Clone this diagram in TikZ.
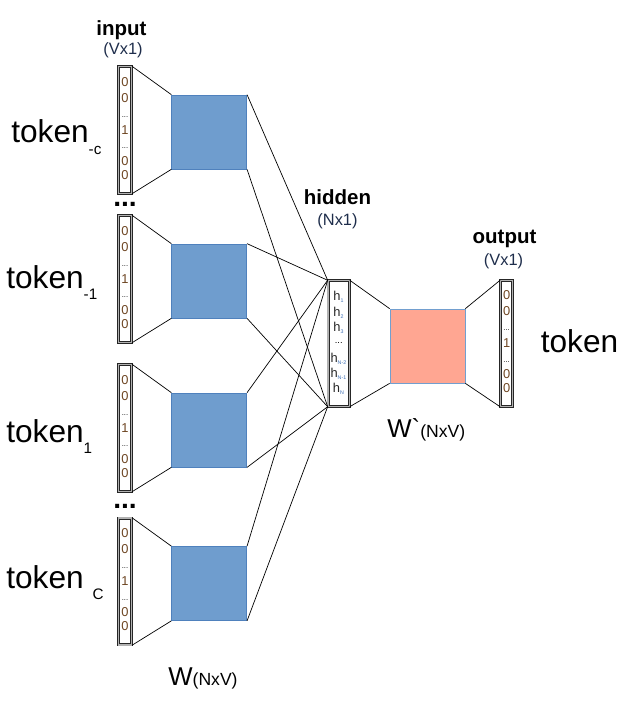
\documentclass[tikz,border=0pt]{standalone}
\usepackage{fontspec}
\setmainfont{Liberation Sans}
\usepackage{xcolor}
\usetikzlibrary{positioning}
\definecolor{wblue}{RGB}{111,157,206}
\definecolor{wblueline}{RGB}{79,129,189}
\definecolor{wpink}{RGB}{255,166,146}
\definecolor{wpinkline}{RGB}{114,159,207}
\definecolor{digitc}{RGB}{110,70,35}
\definecolor{hsubblue}{RGB}{60,110,180}
\definecolor{dimc}{RGB}{30,45,75}
\newcommand\hsub[1]{\textsubscript{\fontsize{4.5}{4.5}\selectfont\color{hsubblue}#1}}
\newcommand\tksub[1]{\raisebox{-9.5pt}{\fontsize{13}{13}\selectfont #1}}
\tikzset{
  vecbox/.style = {rectangle, draw=black!85, double=gray!60,
    double distance=1.2pt, line width=0.65pt, inner sep=0pt,
    minimum width=0.4cm, minimum height=3.8cm},% one-hot vector
  hidbox/.style = {vecbox, minimum width=0.64cm, minimum height=3.77cm},% hidden layer
  outbox/.style = {vecbox, minimum width=0.37cm, minimum height=3.77cm},
  wbox/.style = {rectangle, fill=wblue, draw=wblueline, inner sep=0pt,
    minimum width=2.25cm, minimum height=2.22cm},% W
  wpbox/.style = {wbox, fill=wpink, draw=wpinkline},% W`
  digit/.style = {inner sep=0pt, text=digitc, font=\fontsize{11}{11}\selectfont},
  vdots/.style = {inner sep=0pt, font=\fontsize{6.5}{6.5}\selectfont},
  hcell/.style = {inner sep=0pt, text=black!85, font=\fontsize{11}{11}\selectfont},
  head/.style = {inner sep=0pt, anchor=base, font=\fontsize{17.5}{18}\selectfont\bfseries},
  dim/.style = {inner sep=0pt, anchor=base, text=dimc, font=\fontsize{14}{15}\selectfont},
  token/.style = {inner sep=0pt, anchor=base west, font=\fontsize{27}{28}\selectfont},
  wlbl/.style = {inner sep=0pt, anchor=base west, font=\fontsize{22}{23}\selectfont},
  bigdots/.style = {inner sep=0pt, anchor=base, font=\fontsize{24}{24}\selectfont\bfseries}
}

\begin{document}
\begin{tikzpicture}[x=0.03cm,y=-0.03cm,line width=0.6pt]
\useasboundingbox (0,0) rectangle (640,708);

% input vectors and W
\foreach \i/\y in {1/130,2/279,3/428,4/581.5}{
  \node [vecbox] (in\i) at (125,\y) {};
  \node [wbox] (w\i) at (209.2,\y+2) {};
  \draw (in\i.north east) -- (w\i.north west);
  \draw (in\i.south east) -- (w\i.south west);
  \foreach \dy/\d in {1.44/0,0.96/0,0/1,-0.93/0,-1.35/0}
    \node [digit] at ([yshift=\dy cm]in\i) {\d};
  \foreach \dy in {0.4,-0.55}
    \node [vdots] at ([yshift=\dy cm]in\i) {...};
}
\node [bigdots] (gap1) at (125,206) {...};
\node [bigdots] (gap2) at (125,508) {...};

% hidden layer
\node [hidbox] (hid) at (338.7,343.5) {};
\foreach \i in {1,...,4}{
  \draw (w\i.north east) -- (hid.north west);
  \draw (w\i.south east) -- (hid.south west);
}
\foreach \dy/\s in {1.395/1,0.93/2,0.48/3,-0.465/N-2,-0.915/N-1,-1.365/N}
  \node [hcell] at ([yshift=\dy cm]hid) {h\hsub{\s}};
\node [vdots, font=\fontsize{8}{8}\selectfont] at ([yshift=0.02cm]hid) {...};

% W` and output
\node [wpbox] (wout) at (427.5,346) {};
\node [outbox] (out) at (506.6,343.5) {};
\draw (hid.north east) -- (wout.north west);
\draw (hid.south east) -- (wout.south west);
\draw (wout.north east) -- (out.north west);
\draw (wout.south east) -- (out.south west);
\foreach \dy/\d in {1.44/0,0.96/0,0/1,-0.93/0,-1.35/0}
  \node [digit] at ([yshift=\dy cm]out) {\d};
\foreach \dy in {0.4,-0.55}
  \node [vdots] at ([yshift=\dy cm]out) {...};

% labels
\node [head] (inhead) at (121.5,36) {input};
\node [dim] (indim) at (123,55) {(Vx1)};
\node [head] (hidhead) at (337.5,205) {hidden};
\node [dim] (hiddim) at (337.5,225) {(Nx1)};
\node [head] (outhead) at (504.5,243) {output};
\node [dim] (outdim) at (503.5,265) {(Vx1)};

\node [token] (tk1) at (11,143) {token\tksub{-c}};
\node [token] (tk2) at (6,288) {token\tksub{-1}};
\node [token] (tk3) at (6,442) {token\tksub{1}};
\node [token] (tk4) at (6,588) {token \tksub{C}};
\node [token] (tkout) at (540.5,352) {token};

\node [wlbl] (wlbl) at (168,685) {W{\fontsize{15}{15}\selectfont(NxV)}};
\node [wlbl] (wplbl) at (387,437) {W\textasciigrave{\fontsize{15}{15}\selectfont(NxV)}};
\end{tikzpicture}
\end{document}
